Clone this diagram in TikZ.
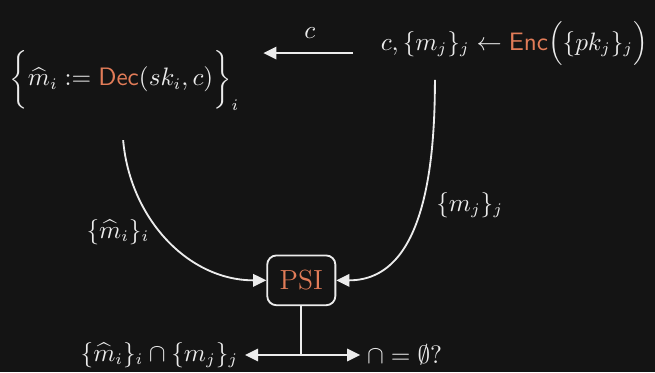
\documentclass[tikz,border=0pt]{standalone}
\usepackage{amsmath,amssymb}
\usepackage{xcolor}
\usetikzlibrary{positioning, arrows.meta}
\definecolor{BgBlack}{RGB}{20,20,20}
\definecolor{InkWhite}{RGB}{236,236,236}
\definecolor{FuncOrange}{RGB}{226,124,88}
\newcommand{\fn}[1]{\textcolor{FuncOrange}{\mathsf{#1}}}
\tikzset{
  txt/.style={text=InkWhite, inner sep=1pt, font=\fontsize{10.6pt}{12pt}\selectfont},
  psibox/.style={draw=InkWhite, thick, fill=BgBlack, rounded corners=4pt, minimum width=1.04cm,
    minimum height=0.76cm, text=FuncOrange, font=\large},
  flow/.style={-{Triangle[length=2mm, width=1.9mm]}, thick, InkWhite},
  wire/.style={thick, InkWhite},
}
\begin{document}
\begin{tikzpicture}
  \path[use as bounding box, fill=BgBlack] (0,0) rectangle (10,5.68);
  % parties
  \node[txt] (dec) at (1.90,4.46) {$\bigg\{\widehat{m}_i \mathrel{:=} \fn{Dec}(sk_i, c)\bigg\}_i$};
  \node[txt, anchor=east] (enc) at (9.93,5.01) {$c, \{m_j\}_j \leftarrow \fn{Enc}\Big(\{pk_j\}_j\Big)$};
  \node[psibox] (psi) at (4.60,1.40) {PSI};
  % ciphertext
  \coordinate (cR) at (5.39,4.87);
  \coordinate (cL) at (4.02,4.87);
  \draw[flow] (cR) -- (cL);
  \node[txt] (clab) at (4.73,5.18) {$c$};
  % inputs to PSI
  \coordinate (mhat) at (1.88,3.54);
  \coordinate (mj) at (6.64,4.46);
  \draw[flow] (mhat) to[out=-85, in=180] (psi.west);
  \draw[flow] (mj) to[out=-90, in=0] (psi.east);
  \node[txt] (mhatlab) at (1.80,2.14) {$\{\widehat{m}_i\}_i$};
  \node[txt] (mjlab) at (7.17,2.55) {$\{m_j\}_j$};
  % outputs
  \coordinate (junc) at (4.60,0.26);
  \node[txt, anchor=east, outer sep=2pt] (inter) at (3.74,0.26) {$\{\widehat{m}_i\}_i \cap \{m_j\}_j$};
  \node[txt, anchor=west, outer sep=2pt] (empt) at (5.50,0.26) {$\cap = \emptyset?$};
  \draw[wire] (psi.south) -- (junc);
  \draw[flow] (junc) -- (inter);
  \draw[flow] (junc) -- (empt);
\end{tikzpicture}
\end{document}
